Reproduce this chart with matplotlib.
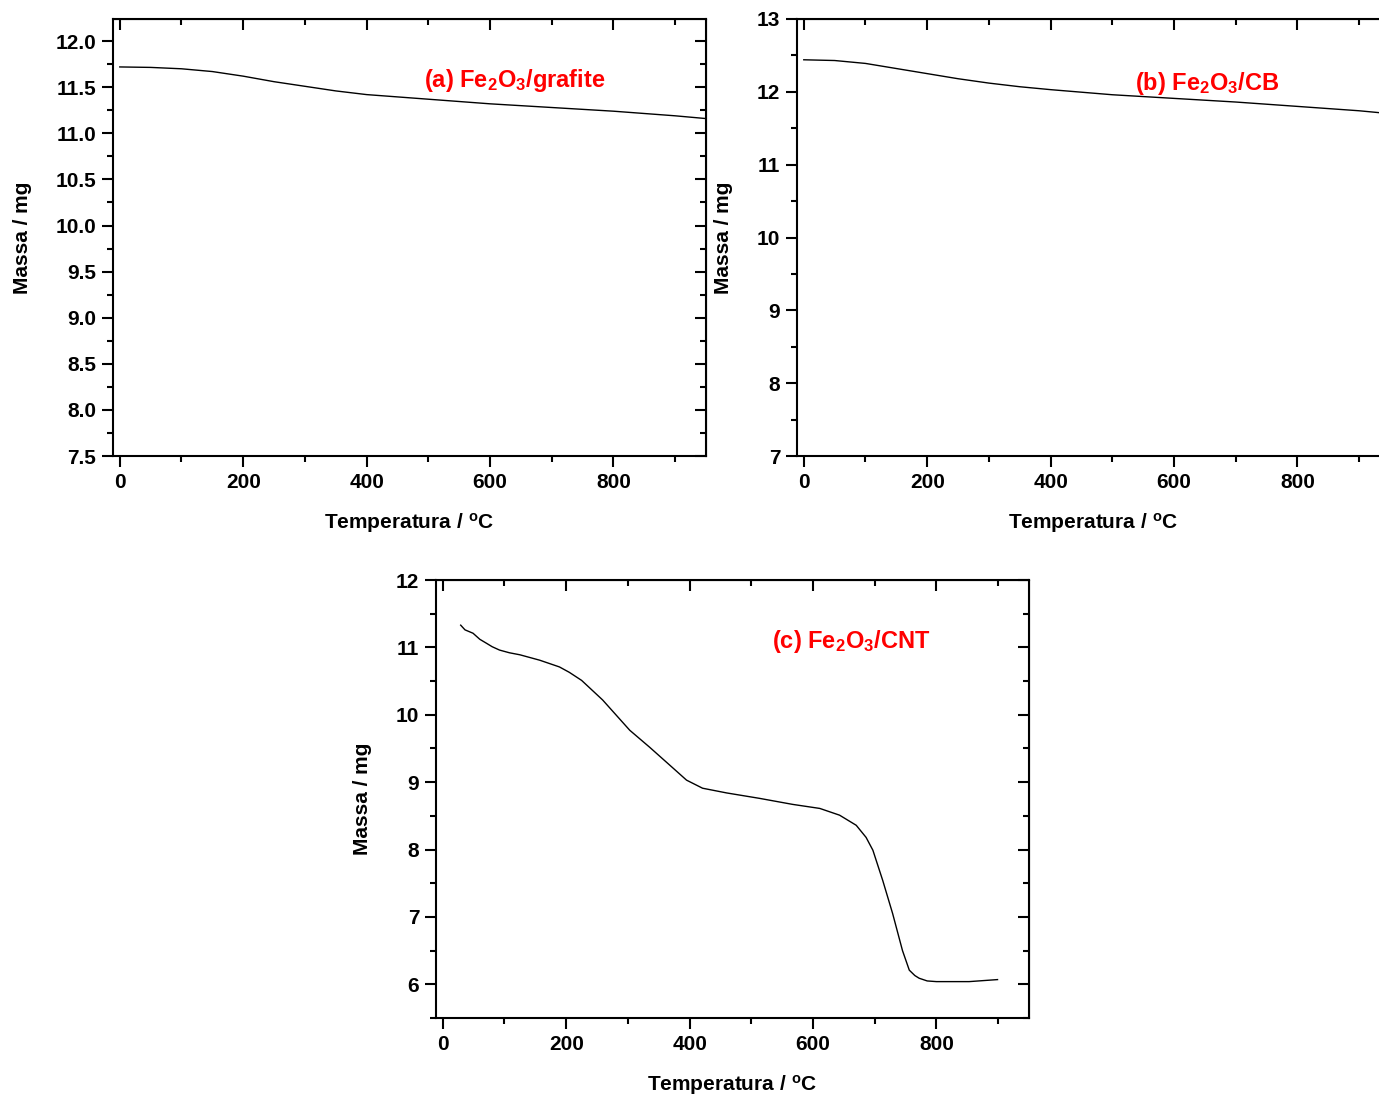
import matplotlib
matplotlib.use("Agg")
import matplotlib.pyplot as plt
from matplotlib.ticker import MultipleLocator, FormatStrFormatter

plt.rcParams['font.family'] = ['Liberation Sans', 'DejaVu Sans']
plt.rcParams['font.weight'] = 'bold'
plt.rcParams['mathtext.fontset'] = 'custom'
plt.rcParams['mathtext.rm'] = 'Liberation Sans:bold'
plt.rcParams['mathtext.bf'] = 'Liberation Sans:bold'
plt.rcParams['mathtext.it'] = 'Liberation Sans:bold'

# (a) Fe2O3/grafite
temp_a = [0, 50, 100, 150, 200, 250, 300, 350, 400, 500, 600, 700, 800, 900, 950]
mass_a = [11.72, 11.715, 11.70, 11.67, 11.62, 11.56, 11.51, 11.46, 11.42, 11.37, 11.32,
          11.28, 11.24, 11.19, 11.16]

# (b) Fe2O3/CB
temp_b = [0, 50, 100, 150, 200, 250, 300, 350, 400, 500, 600, 700, 800, 900, 950]
mass_b = [12.44, 12.43, 12.39, 12.32, 12.25, 12.18, 12.12, 12.07, 12.03, 11.96, 11.91,
          11.86, 11.80, 11.74, 11.70]

# (c) Fe2O3/CNT
temp_c = [29, 36, 49, 60, 71, 80, 92, 108, 125, 157, 189, 205, 225, 259, 303, 335, 373,
          395, 421, 460, 513, 567, 611, 643, 670, 686, 697, 713, 729, 745, 756, 765,
          772, 785, 800, 853, 899]
mass_c = [11.33, 11.26, 11.21, 11.12, 11.06, 11.01, 10.96, 10.92, 10.89, 10.81, 10.71,
          10.63, 10.51, 10.22, 9.77, 9.52, 9.21, 9.03, 8.91, 8.84, 8.76, 8.67, 8.61,
          8.51, 8.36, 8.18, 7.99, 7.54, 7.05, 6.50, 6.21, 6.13, 6.09, 6.05, 6.04, 6.04,
          6.07]

labels = ["(a) Fe$_2$O$_3$/grafite", "(b) Fe$_2$O$_3$/CB", "(c) Fe$_2$O$_3$/CNT"]

fig = plt.figure(figsize=(13.79, 10.95), dpi=100)
W, H = 1379, 1095


def make_axes(x0, y0, x1, y1):
    return fig.add_axes([x0 / W, 1 - y1 / H, (x1 - x0) / W, (y1 - y0) / H])


def style(ax, ylim, ymaj, ymin):
    ax.set_xlim(-11, 950)
    ax.set_ylim(*ylim)
    ax.xaxis.set_major_locator(MultipleLocator(200))
    ax.xaxis.set_minor_locator(MultipleLocator(100))
    ax.yaxis.set_major_locator(MultipleLocator(ymaj))
    ax.yaxis.set_minor_locator(MultipleLocator(ymin))
    ax.tick_params(which='major', direction='out', length=8, width=1.5, labelsize=15, pad=4)
    ax.tick_params(which='minor', direction='out', length=4, width=1.5)
    for s in ax.spines.values():
        s.set_linewidth(1.5)
    top = ax.secondary_xaxis('top')
    top.xaxis.set_major_locator(MultipleLocator(200))
    top.xaxis.set_minor_locator(MultipleLocator(100))
    top.tick_params(which='major', direction='in', length=8, width=1.5, labeltop=False)
    top.tick_params(which='minor', direction='in', length=4, width=1.5)
    right = ax.secondary_yaxis('right')
    right.yaxis.set_major_locator(MultipleLocator(ymaj))
    right.yaxis.set_minor_locator(MultipleLocator(ymin))
    right.tick_params(which='major', direction='in', length=8, width=1.5, labelright=False)
    right.tick_params(which='minor', direction='in', length=4, width=1.5)
    ax.set_xlabel("Temperatura / $^\\mathrm{o}$C", fontsize=15, fontweight='bold', labelpad=14)
    ax.set_ylabel("Massa / mg", fontsize=15, fontweight='bold', labelpad=17)


ax_a = make_axes(113, 19, 706, 456)
ax_a.plot(temp_a, mass_a, color='black', lw=1)
style(ax_a, (7.5, 12.24), 0.5, 0.25)
ax_a.yaxis.set_major_formatter(FormatStrFormatter('%.1f'))
ax_a.text(0.525, 0.845, labels[0], color='red', fontsize=17, fontweight='bold', transform=ax_a.transAxes)

ax_b = make_axes(797, 19, 1390, 456)
ax_b.plot(temp_b, mass_b, color='black', lw=1)
style(ax_b, (7, 13), 1, 0.5)
ax_b.text(0.57, 0.838, labels[1], color='red', fontsize=17, fontweight='bold', transform=ax_b.transAxes)

ax_c = make_axes(436, 580, 1029, 1018)
ax_c.plot(temp_c, mass_c, color='black', lw=1)
style(ax_c, (5.5, 12), 1, 0.5)
ax_c.text(0.566, 0.845, labels[2], color='red', fontsize=17, fontweight='bold', transform=ax_c.transAxes)

fig.savefig("out.png", dpi=100)
